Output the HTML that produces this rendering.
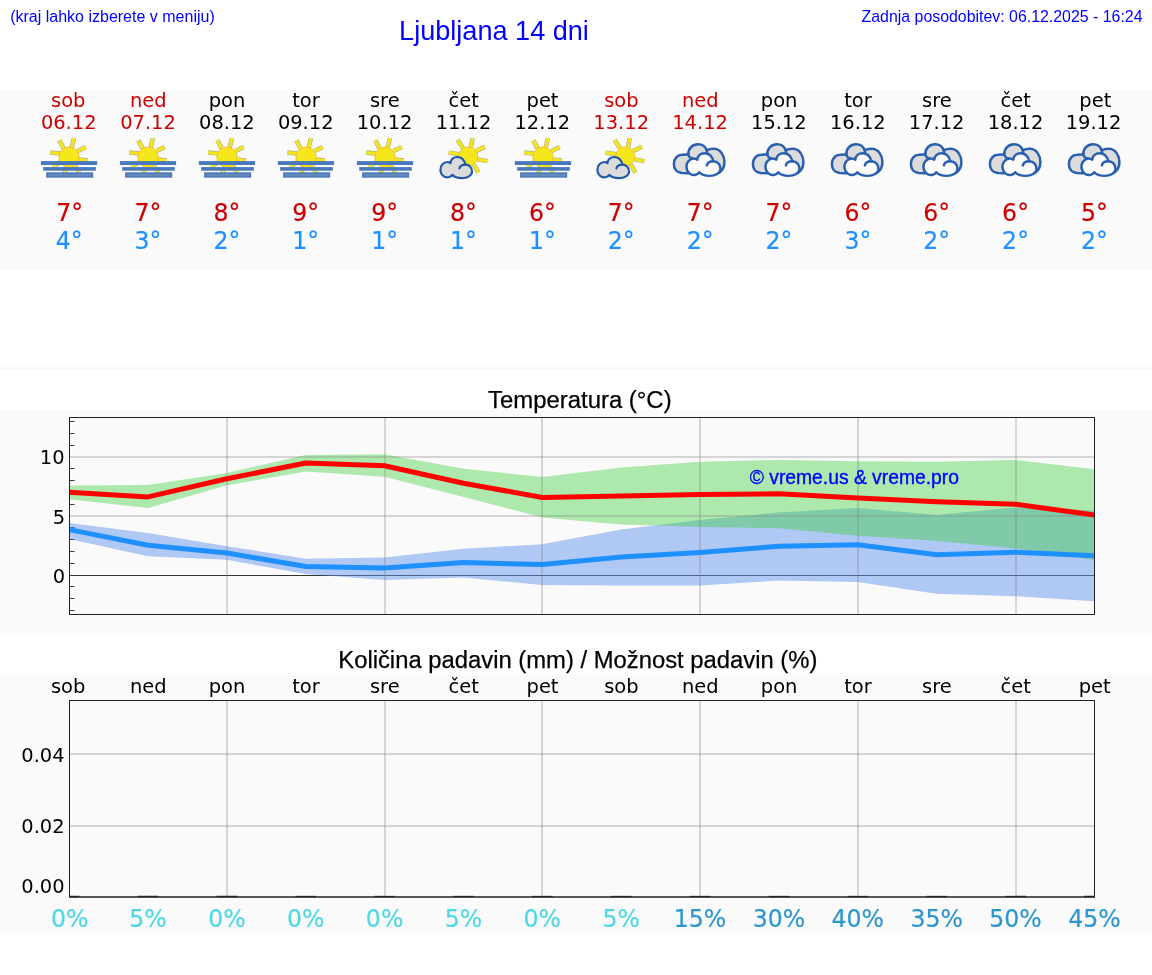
<!DOCTYPE html>
<html lang="sl"><head><meta charset="utf-8"><title>Ljubljana 14 dni</title>
<style>
html,body{margin:0;padding:0;background:#fff;}
body{width:1152px;height:975px;overflow:hidden;position:relative;}
svg{position:absolute;left:0;top:0;display:block;}
.a{font-family:"Liberation Sans",Arial,sans-serif;}
.d{font-family:"DejaVu Sans","Liberation Sans",sans-serif;}
</style></head><body>
<svg width="1152" height="975" viewBox="0 0 1152 975">
<defs>
<filter id="soft" x="-5%" y="-5%" width="110%" height="110%"><feGaussianBlur stdDeviation="0.4"/></filter>
<g id="rays-f" fill="none">
  <line x1="22.2" y1="19.6" x2="12.2" y2="18.6"/>
  <line x1="25.6" y1="14.4" x2="21.3" y2="6.4"/>
  <line x1="33.7" y1="13.6" x2="35.9" y2="4.2"/>
  <line x1="39.6" y1="17.0" x2="47.7" y2="13.0"/>
  <line x1="41.0" y1="25.4" x2="49.7" y2="26.6"/>
  <line x1="22.4" y1="28.2" x2="14.7" y2="32.6"/>
  <line x1="28.4" y1="32.7" x2="26.1" y2="40.6"/>
  <line x1="36.8" y1="31.5" x2="41.4" y2="38.4"/>
</g>
<g id="rays-p" fill="none">
  <line x1="26.2" y1="20.2" x2="15.6" y2="18.6"/>
  <line x1="30.0" y1="14.3" x2="24.7" y2="5.9"/>
  <line x1="38.1" y1="13.4" x2="39.6" y2="4.2"/>
  <line x1="43.2" y1="17.0" x2="51.8" y2="12.7"/>
  <line x1="44.4" y1="25.4" x2="54.4" y2="27.1"/>
  <line x1="40.6" y1="30.4" x2="45.4" y2="38.7"/>
</g>
<g id="sun-f" filter="url(#soft)">
  <use href="#rays-f" stroke="#66664a" stroke-opacity="0.55" stroke-width="4.5"/>
  <use href="#rays-f" stroke="#f3e71a" stroke-width="3.3"/>
  <circle cx="31.0" cy="23.2" r="10.2" fill="#f4e81c" stroke="#f8b62d" stroke-width="0.9"/>
  <rect x="2.9" y="27.1" width="56.2" height="3.9" fill="#4a78bd"/>
  <rect x="5.2" y="33.1" width="52.6" height="3.6" fill="#4a78bd"/>
  <rect x="8.1" y="38.3" width="47.1" height="5.4" fill="#4e7cbc"/>
  <rect x="10.4" y="40.0" width="42.6" height="2.3" fill="#6489bd"/>
</g>
<path id="cloudshape" d="M19.3 40.9 C17.5 43.6 13 44.6 10 42 C6.3 39 6.3 33 9.5 30 C11.5 28 15 27.4 17.4 29 C17.5 25.2 20.8 22.9 24.2 22.9 C28 22.9 31.3 25.3 32.6 30.6 C36.2 30.4 39.3 33.5 39.3 37.5 C39.3 41.6 34.2 44.3 29.2 44.3 C25 44.3 21 43 19.3 40.9 Z"/>
<path id="cloudcurl" d="M26.4 34.4 C27 32 29.5 30.4 33.2 30.6"/>
<g id="ic-p" filter="url(#soft)">
  <use href="#rays-p" stroke="#66664a" stroke-opacity="0.55" stroke-width="4.5"/>
  <use href="#rays-p" stroke="#f3e71a" stroke-width="3.3"/>
  <circle cx="35.2" cy="22.4" r="9.5" fill="#f4e81c" stroke="#f8b62d" stroke-width="0.9"/>
  <g transform="translate(23.3 33.6) scale(0.985) translate(-23.3 -33.6)">
  <use href="#cloudshape" fill="#dcdcdc" stroke="#2158a9" stroke-width="2.15" stroke-linejoin="round"/>
  <use href="#cloudcurl" fill="none" stroke="#2158a9" stroke-width="2.15" stroke-linecap="round"/>
  </g>
</g>
<g id="ic-c" filter="url(#soft)">
  <path d="M12 39.1 C6 38.5 3.9 34 3.9 30 C3.9 24.5 7.5 20.8 12 20.8 C14.5 20.6 16.8 20.4 18.3 20.6 C18 14.5 22.5 10.2 28.1 10.2 C32 10.2 35.6 12.6 36.7 16.4 C40 14.6 42.5 14.8 44.3 14.8 C50.5 15.2 54.4 21.5 54.4 28.1 C54.4 32 53 36 49.5 38.6 L32 34 L17.5 39.3 Z" fill="#dcdcdc" stroke="#2a5fad" stroke-width="2.5" stroke-linejoin="round"/>
  <path d="M18.1 19.6 C18.4 22.6 20.4 24.2 23.2 24.5 M36.6 15.6 C36.9 17 37 18 37.1 18.8" fill="none" stroke="#2a5fad" stroke-width="2.5" stroke-linecap="round"/>
  <g transform="translate(16.6 19.2) scale(1.06) translate(-7.3 -22.9)">
    <use href="#cloudshape" fill="#fbfbfb" stroke="#2a5fad" stroke-width="2.3" stroke-linejoin="round"/>
    <use href="#cloudcurl" fill="none" stroke="#2a5fad" stroke-width="2.3" stroke-linecap="round"/>
  </g>
</g>
</defs>

<rect x="0" y="90" width="1152" height="180" fill="#fafafa"/>
<rect x="0" y="365" width="1152" height="5" fill="#fafafa"/>
<rect x="0" y="410" width="1152" height="225" fill="#fafafa"/>
<rect x="0" y="675" width="1152" height="260" fill="#fafafa"/>
<g class="a" fill="#0000ff">
<text x="10.2" y="22" font-size="16">(kraj lahko izberete v meniju)</text>
<text x="494" y="39.5" font-size="27.1" text-anchor="middle">Ljubljana 14 dni</text>
<text x="1142.5" y="22" font-size="15.9" text-anchor="end">Zadnja posodobitev: 06.12.2025 - 16:24</text>
</g>
<g class="d" text-anchor="middle">
<text x="68.22" y="106.5" font-size="19.44" fill="#cc0000">sob</text>
<text x="68.72" y="129" font-size="19.44" fill="#cc0000">06.12</text>
<text transform="translate(69.62 220.8) scale(0.96 1)" font-size="24.6" fill="#cc0000" stroke="#cc0000" stroke-width="0.2">7°</text>
<text transform="translate(69.12 248.8) scale(0.96 1)" font-size="24.6" fill="#1e90ff" stroke="#1e90ff" stroke-width="0.2">4°</text>
<text x="148.19" y="106.5" font-size="19.44" fill="#cc0000">ned</text>
<text x="147.99" y="129" font-size="19.44" fill="#cc0000">07.12</text>
<text transform="translate(147.99 220.8) scale(0.96 1)" font-size="24.6" fill="#cc0000" stroke="#cc0000" stroke-width="0.2">7°</text>
<text transform="translate(147.99 248.8) scale(0.96 1)" font-size="24.6" fill="#1e90ff" stroke="#1e90ff" stroke-width="0.2">3°</text>
<text x="227.06" y="106.5" font-size="19.44" fill="#000">pon</text>
<text x="226.86" y="129" font-size="19.44" fill="#000">08.12</text>
<text transform="translate(226.86 220.8) scale(0.96 1)" font-size="24.6" fill="#cc0000" stroke="#cc0000" stroke-width="0.2">8°</text>
<text transform="translate(226.86 248.8) scale(0.96 1)" font-size="24.6" fill="#1e90ff" stroke="#1e90ff" stroke-width="0.2">2°</text>
<text x="305.92" y="106.5" font-size="19.44" fill="#000">tor</text>
<text x="305.72" y="129" font-size="19.44" fill="#000">09.12</text>
<text transform="translate(305.72 220.8) scale(0.96 1)" font-size="24.6" fill="#cc0000" stroke="#cc0000" stroke-width="0.2">9°</text>
<text transform="translate(305.72 248.8) scale(0.96 1)" font-size="24.6" fill="#1e90ff" stroke="#1e90ff" stroke-width="0.2">1°</text>
<text x="384.79" y="106.5" font-size="19.44" fill="#000">sre</text>
<text x="384.59" y="129" font-size="19.44" fill="#000">10.12</text>
<text transform="translate(384.59 220.8) scale(0.96 1)" font-size="24.6" fill="#cc0000" stroke="#cc0000" stroke-width="0.2">9°</text>
<text transform="translate(384.59 248.8) scale(0.96 1)" font-size="24.6" fill="#1e90ff" stroke="#1e90ff" stroke-width="0.2">1°</text>
<text x="463.66" y="106.5" font-size="19.44" fill="#000">čet</text>
<text x="463.46" y="129" font-size="19.44" fill="#000">11.12</text>
<text transform="translate(463.46 220.8) scale(0.96 1)" font-size="24.6" fill="#cc0000" stroke="#cc0000" stroke-width="0.2">8°</text>
<text transform="translate(463.46 248.8) scale(0.96 1)" font-size="24.6" fill="#1e90ff" stroke="#1e90ff" stroke-width="0.2">1°</text>
<text x="542.53" y="106.5" font-size="19.44" fill="#000">pet</text>
<text x="542.33" y="129" font-size="19.44" fill="#000">12.12</text>
<text transform="translate(542.33 220.8) scale(0.96 1)" font-size="24.6" fill="#cc0000" stroke="#cc0000" stroke-width="0.2">6°</text>
<text transform="translate(542.33 248.8) scale(0.96 1)" font-size="24.6" fill="#1e90ff" stroke="#1e90ff" stroke-width="0.2">1°</text>
<text x="621.40" y="106.5" font-size="19.44" fill="#cc0000">sob</text>
<text x="621.20" y="129" font-size="19.44" fill="#cc0000">13.12</text>
<text transform="translate(621.20 220.8) scale(0.96 1)" font-size="24.6" fill="#cc0000" stroke="#cc0000" stroke-width="0.2">7°</text>
<text transform="translate(621.20 248.8) scale(0.96 1)" font-size="24.6" fill="#1e90ff" stroke="#1e90ff" stroke-width="0.2">2°</text>
<text x="700.26" y="106.5" font-size="19.44" fill="#cc0000">ned</text>
<text x="700.06" y="129" font-size="19.44" fill="#cc0000">14.12</text>
<text transform="translate(700.06 220.8) scale(0.96 1)" font-size="24.6" fill="#cc0000" stroke="#cc0000" stroke-width="0.2">7°</text>
<text transform="translate(700.06 248.8) scale(0.96 1)" font-size="24.6" fill="#1e90ff" stroke="#1e90ff" stroke-width="0.2">2°</text>
<text x="779.13" y="106.5" font-size="19.44" fill="#000">pon</text>
<text x="778.93" y="129" font-size="19.44" fill="#000">15.12</text>
<text transform="translate(778.93 220.8) scale(0.96 1)" font-size="24.6" fill="#cc0000" stroke="#cc0000" stroke-width="0.2">7°</text>
<text transform="translate(778.93 248.8) scale(0.96 1)" font-size="24.6" fill="#1e90ff" stroke="#1e90ff" stroke-width="0.2">2°</text>
<text x="858.00" y="106.5" font-size="19.44" fill="#000">tor</text>
<text x="857.80" y="129" font-size="19.44" fill="#000">16.12</text>
<text transform="translate(857.80 220.8) scale(0.96 1)" font-size="24.6" fill="#cc0000" stroke="#cc0000" stroke-width="0.2">6°</text>
<text transform="translate(857.80 248.8) scale(0.96 1)" font-size="24.6" fill="#1e90ff" stroke="#1e90ff" stroke-width="0.2">3°</text>
<text x="936.87" y="106.5" font-size="19.44" fill="#000">sre</text>
<text x="936.67" y="129" font-size="19.44" fill="#000">17.12</text>
<text transform="translate(936.67 220.8) scale(0.96 1)" font-size="24.6" fill="#cc0000" stroke="#cc0000" stroke-width="0.2">6°</text>
<text transform="translate(936.67 248.8) scale(0.96 1)" font-size="24.6" fill="#1e90ff" stroke="#1e90ff" stroke-width="0.2">2°</text>
<text x="1015.74" y="106.5" font-size="19.44" fill="#000">čet</text>
<text x="1015.54" y="129" font-size="19.44" fill="#000">18.12</text>
<text transform="translate(1015.54 220.8) scale(0.96 1)" font-size="24.6" fill="#cc0000" stroke="#cc0000" stroke-width="0.2">6°</text>
<text transform="translate(1015.54 248.8) scale(0.96 1)" font-size="24.6" fill="#1e90ff" stroke="#1e90ff" stroke-width="0.2">2°</text>
<text x="1095.30" y="106.5" font-size="19.44" fill="#000">pet</text>
<text x="1093.50" y="129" font-size="19.44" fill="#000">19.12</text>
<text transform="translate(1094.40 220.8) scale(0.96 1)" font-size="24.6" fill="#cc0000" stroke="#cc0000" stroke-width="0.2">5°</text>
<text transform="translate(1094.40 248.8) scale(0.96 1)" font-size="24.6" fill="#1e90ff" stroke="#1e90ff" stroke-width="0.2">2°</text>
</g>
<use href="#sun-f" x="38" y="134"/>
<use href="#sun-f" x="117" y="134"/>
<use href="#sun-f" x="196" y="134"/>
<use href="#sun-f" x="275" y="134"/>
<use href="#sun-f" x="354" y="134"/>
<use href="#ic-p" x="433" y="134"/>
<use href="#sun-f" x="512" y="134"/>
<use href="#ic-p" x="590" y="134"/>
<use href="#ic-c" x="670" y="134"/>
<use href="#ic-c" x="749" y="134"/>
<use href="#ic-c" x="828" y="134"/>
<use href="#ic-c" x="907" y="134"/>
<use href="#ic-c" x="986" y="134"/>
<use href="#ic-c" x="1065" y="134"/>
<text class="a" x="579.8" y="407.5" font-size="23.92" text-anchor="middle" fill="#000" stroke="#000" stroke-width="0.25">Temperatura (°C)</text>
<clipPath id="c1"><rect x="69.5" y="417.5" width="1025.0" height="197.0"/></clipPath>
<line x1="69.5" y1="610.50" x2="74.5" y2="610.50" stroke="#222" stroke-width="0.9"/>
<line x1="69.5" y1="598.50" x2="74.5" y2="598.50" stroke="#222" stroke-width="0.9"/>
<line x1="69.5" y1="586.50" x2="74.5" y2="586.50" stroke="#222" stroke-width="0.9"/>
<line x1="69.5" y1="563.50" x2="74.5" y2="563.50" stroke="#222" stroke-width="0.9"/>
<line x1="69.5" y1="551.50" x2="74.5" y2="551.50" stroke="#222" stroke-width="0.9"/>
<line x1="69.5" y1="539.50" x2="74.5" y2="539.50" stroke="#222" stroke-width="0.9"/>
<line x1="69.5" y1="527.50" x2="74.5" y2="527.50" stroke="#222" stroke-width="0.9"/>
<line x1="69.5" y1="504.50" x2="74.5" y2="504.50" stroke="#222" stroke-width="0.9"/>
<line x1="69.5" y1="492.50" x2="74.5" y2="492.50" stroke="#222" stroke-width="0.9"/>
<line x1="69.5" y1="480.50" x2="74.5" y2="480.50" stroke="#222" stroke-width="0.9"/>
<line x1="69.5" y1="468.50" x2="74.5" y2="468.50" stroke="#222" stroke-width="0.9"/>
<line x1="69.5" y1="445.50" x2="74.5" y2="445.50" stroke="#222" stroke-width="0.9"/>
<line x1="69.5" y1="433.50" x2="74.5" y2="433.50" stroke="#222" stroke-width="0.9"/>
<line x1="69.5" y1="421.50" x2="74.5" y2="421.50" stroke="#222" stroke-width="0.9"/>
<g clip-path="url(#c1)">
<line x1="69.5" y1="575.5" x2="1094.5" y2="575.5" stroke="#333" stroke-width="1"/>
<polygon points="69.12,523.00 147.99,533.00 226.86,546.25 305.72,558.75 384.59,557.50 463.46,548.75 542.33,544.25 621.20,529.50 700.06,520.00 778.93,512.50 857.80,508.00 936.67,515.00 1015.54,507.50 1094.40,510.50 1094.40,601.25 1015.54,596.25 936.67,593.75 857.80,582.00 778.93,580.50 700.06,585.50 621.20,585.50 542.33,585.00 463.46,577.50 384.59,580.00 305.72,573.90 226.86,559.80 147.99,556.30 69.12,539.00" fill="#6495ed" fill-opacity="0.5"/>
<polygon points="69.12,485.50 147.99,485.00 226.86,473.00 305.72,455.00 384.59,454.25 463.46,468.75 542.33,477.00 621.20,467.50 700.06,461.75 778.93,460.00 857.80,461.25 936.67,461.75 1015.54,460.00 1094.40,469.25 1094.40,560.00 1015.54,548.50 936.67,540.80 857.80,535.80 778.93,528.25 700.06,527.00 621.20,524.50 542.33,517.50 463.46,497.00 384.59,476.75 305.72,471.50 226.86,485.20 147.99,507.90 69.12,499.20" fill="#32cd32" fill-opacity="0.385"/>
<line x1="227" y1="417.5" x2="227" y2="614.5" stroke="#808080" stroke-opacity="0.3" stroke-width="2"/>
<line x1="385" y1="417.5" x2="385" y2="614.5" stroke="#808080" stroke-opacity="0.3" stroke-width="2"/>
<line x1="542" y1="417.5" x2="542" y2="614.5" stroke="#808080" stroke-opacity="0.3" stroke-width="2"/>
<line x1="700" y1="417.5" x2="700" y2="614.5" stroke="#808080" stroke-opacity="0.3" stroke-width="2"/>
<line x1="858" y1="417.5" x2="858" y2="614.5" stroke="#808080" stroke-opacity="0.3" stroke-width="2"/>
<line x1="1016" y1="417.5" x2="1016" y2="614.5" stroke="#808080" stroke-opacity="0.3" stroke-width="2"/>
<line x1="69.5" y1="457" x2="1094.5" y2="457" stroke="#808080" stroke-opacity="0.3" stroke-width="2"/>
<line x1="69.5" y1="516" x2="1094.5" y2="516" stroke="#808080" stroke-opacity="0.3" stroke-width="2"/>
<polyline points="69.12,492.20 147.99,496.90 226.86,478.75 305.72,463.00 384.59,465.75 463.46,483.25 542.33,497.50 621.20,496.00 700.06,494.50 778.93,493.80 857.80,498.00 936.67,501.75 1015.54,504.25 1094.40,515.00" fill="none" stroke="#ff0000" stroke-width="5" stroke-linejoin="round"/>
<polyline points="69.12,529.60 147.99,545.20 226.86,553.00 305.72,566.50 384.59,568.00 463.46,562.50 542.33,564.50 621.20,557.00 700.06,552.50 778.93,546.25 857.80,544.70 936.67,554.70 1015.54,552.20 1094.40,555.75" fill="none" stroke="#1e90ff" stroke-width="5" stroke-linejoin="round"/>
</g>
<rect x="69.5" y="417.5" width="1025.0" height="197.0" fill="none" stroke="#222" stroke-width="1"/>
<g class="d" font-size="19.44" text-anchor="end" fill="#000">
<text x="64.5" y="464.2">10</text><text x="65.1" y="524.2">5</text><text x="65.1" y="583.2">0</text>
</g>
<text class="a" x="749.7" y="483.75" font-size="19.3" fill="#0000ff" stroke="#0000ff" stroke-width="0.35">© vreme.us &amp; vreme.pro</text>
<text class="a" x="577.8" y="668" font-size="23.82" text-anchor="middle" fill="#000" stroke="#000" stroke-width="0.25">Količina padavin (mm) / Možnost padavin (%)</text>
<line x1="227" y1="700.5" x2="227" y2="897.0" stroke="#808080" stroke-opacity="0.3" stroke-width="2"/>
<line x1="385" y1="700.5" x2="385" y2="897.0" stroke="#808080" stroke-opacity="0.3" stroke-width="2"/>
<line x1="542" y1="700.5" x2="542" y2="897.0" stroke="#808080" stroke-opacity="0.3" stroke-width="2"/>
<line x1="700" y1="700.5" x2="700" y2="897.0" stroke="#808080" stroke-opacity="0.3" stroke-width="2"/>
<line x1="858" y1="700.5" x2="858" y2="897.0" stroke="#808080" stroke-opacity="0.3" stroke-width="2"/>
<line x1="1016" y1="700.5" x2="1016" y2="897.0" stroke="#808080" stroke-opacity="0.3" stroke-width="2"/>
<line x1="69.5" y1="754" x2="1094.5" y2="754" stroke="#808080" stroke-opacity="0.3" stroke-width="2"/>
<line x1="69.5" y1="826" x2="1094.5" y2="826" stroke="#808080" stroke-opacity="0.3" stroke-width="2"/>
<clipPath id="c2"><rect x="69.5" y="700.5" width="1025.0" height="197.5"/></clipPath>
<g clip-path="url(#c2)">
<line x1="58.82" y1="896.5" x2="79.42" y2="896.5" stroke="#333" stroke-width="1.3"/>
<line x1="137.69" y1="896.5" x2="158.29" y2="896.5" stroke="#333" stroke-width="1.3"/>
<line x1="216.56" y1="896.5" x2="237.16" y2="896.5" stroke="#333" stroke-width="1.3"/>
<line x1="295.42" y1="896.5" x2="316.02" y2="896.5" stroke="#333" stroke-width="1.3"/>
<line x1="374.29" y1="896.5" x2="394.89" y2="896.5" stroke="#333" stroke-width="1.3"/>
<line x1="453.16" y1="896.5" x2="473.76" y2="896.5" stroke="#333" stroke-width="1.3"/>
<line x1="532.03" y1="896.5" x2="552.63" y2="896.5" stroke="#333" stroke-width="1.3"/>
<line x1="610.90" y1="896.5" x2="631.50" y2="896.5" stroke="#333" stroke-width="1.3"/>
<line x1="689.76" y1="896.5" x2="710.36" y2="896.5" stroke="#333" stroke-width="1.3"/>
<line x1="768.63" y1="896.5" x2="789.23" y2="896.5" stroke="#333" stroke-width="1.3"/>
<line x1="847.50" y1="896.5" x2="868.10" y2="896.5" stroke="#333" stroke-width="1.3"/>
<line x1="926.37" y1="896.5" x2="946.97" y2="896.5" stroke="#333" stroke-width="1.3"/>
<line x1="1005.24" y1="896.5" x2="1025.84" y2="896.5" stroke="#333" stroke-width="1.3"/>
<line x1="1084.10" y1="896.5" x2="1104.70" y2="896.5" stroke="#333" stroke-width="1.3"/>
</g>
<rect x="69.5" y="700.5" width="1025.0" height="196.5" fill="none" stroke="#222" stroke-width="1"/>
<line x1="69.0" y1="897.0" x2="1095.0" y2="897.0" stroke="#222" stroke-width="1.15"/>
<g class="d" font-size="19.44" text-anchor="end" fill="#000">
<text x="64.6" y="761.6">0.04</text><text x="64.6" y="833">0.02</text><text x="64.6" y="893.3">0.00</text>
</g>
<g class="d" text-anchor="middle">
<text x="68.12" y="693" font-size="19.44" fill="#000">sob</text>
<text transform="translate(69.62 926.5) scale(0.96 1)" font-size="24.6" fill="#4fd8e4" stroke="#4fd8e4" stroke-width="0.2">0%</text>
<text x="148.19" y="693" font-size="19.44" fill="#000">ned</text>
<text transform="translate(147.99 926.5) scale(0.96 1)" font-size="24.6" fill="#4fd8e4" stroke="#4fd8e4" stroke-width="0.2">5%</text>
<text x="227.06" y="693" font-size="19.44" fill="#000">pon</text>
<text transform="translate(226.86 926.5) scale(0.96 1)" font-size="24.6" fill="#4fd8e4" stroke="#4fd8e4" stroke-width="0.2">0%</text>
<text x="305.92" y="693" font-size="19.44" fill="#000">tor</text>
<text transform="translate(305.72 926.5) scale(0.96 1)" font-size="24.6" fill="#4fd8e4" stroke="#4fd8e4" stroke-width="0.2">0%</text>
<text x="384.79" y="693" font-size="19.44" fill="#000">sre</text>
<text transform="translate(384.59 926.5) scale(0.96 1)" font-size="24.6" fill="#4fd8e4" stroke="#4fd8e4" stroke-width="0.2">0%</text>
<text x="463.66" y="693" font-size="19.44" fill="#000">čet</text>
<text transform="translate(463.46 926.5) scale(0.96 1)" font-size="24.6" fill="#4fd8e4" stroke="#4fd8e4" stroke-width="0.2">5%</text>
<text x="542.53" y="693" font-size="19.44" fill="#000">pet</text>
<text transform="translate(542.33 926.5) scale(0.96 1)" font-size="24.6" fill="#4fd8e4" stroke="#4fd8e4" stroke-width="0.2">0%</text>
<text x="621.40" y="693" font-size="19.44" fill="#000">sob</text>
<text transform="translate(621.20 926.5) scale(0.96 1)" font-size="24.6" fill="#4fd8e4" stroke="#4fd8e4" stroke-width="0.2">5%</text>
<text x="700.26" y="693" font-size="19.44" fill="#000">ned</text>
<text transform="translate(700.06 926.5) scale(0.96 1)" font-size="24.6" fill="#2c96cf" stroke="#2c96cf" stroke-width="0.2">15%</text>
<text x="779.13" y="693" font-size="19.44" fill="#000">pon</text>
<text transform="translate(778.93 926.5) scale(0.96 1)" font-size="24.6" fill="#2c96cf" stroke="#2c96cf" stroke-width="0.2">30%</text>
<text x="858.00" y="693" font-size="19.44" fill="#000">tor</text>
<text transform="translate(857.80 926.5) scale(0.96 1)" font-size="24.6" fill="#2c96cf" stroke="#2c96cf" stroke-width="0.2">40%</text>
<text x="936.87" y="693" font-size="19.44" fill="#000">sre</text>
<text transform="translate(936.67 926.5) scale(0.96 1)" font-size="24.6" fill="#2c96cf" stroke="#2c96cf" stroke-width="0.2">35%</text>
<text x="1015.74" y="693" font-size="19.44" fill="#000">čet</text>
<text transform="translate(1015.54 926.5) scale(0.96 1)" font-size="24.6" fill="#2c96cf" stroke="#2c96cf" stroke-width="0.2">50%</text>
<text x="1094.60" y="693" font-size="19.44" fill="#000">pet</text>
<text transform="translate(1094.40 926.5) scale(0.96 1)" font-size="24.6" fill="#2c96cf" stroke="#2c96cf" stroke-width="0.2">45%</text>
</g>
</svg></body></html>
